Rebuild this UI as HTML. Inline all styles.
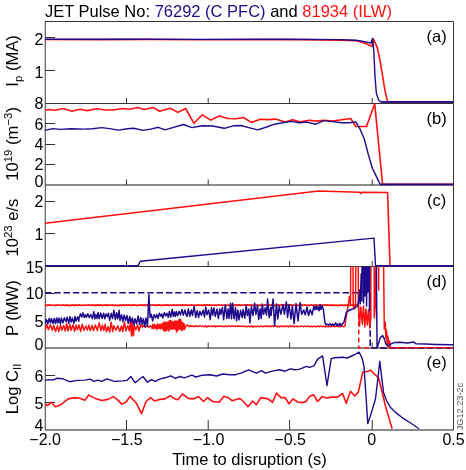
<!DOCTYPE html>
<html><head><meta charset="utf-8"><style>
html,body{margin:0;padding:0;background:#fff;width:466px;height:470px;overflow:hidden}
svg{display:block;font-family:"Liberation Sans",sans-serif;will-change:transform}
</style></head><body>
<svg width="466" height="470" viewBox="0 0 466 470"><g font-family="Liberation Sans, sans-serif">
<text x="44.9" y="16.7" font-size="16.5" fill="#000">JET Pulse No: <tspan fill="#1e0a8c">76292 (C PFC)</tspan> and <tspan fill="#ff1010">81934 (ILW)</tspan></text>
<line x1="45.1" y1="21.5" x2="453.5" y2="21.5" stroke="#333" stroke-width="1"/>
<line x1="45.1" y1="103.5" x2="453.5" y2="103.5" stroke="#333" stroke-width="1"/>
<line x1="45.1" y1="185.0" x2="453.5" y2="185.0" stroke="#1a1a1a" stroke-width="1.1"/>
<line x1="45.1" y1="266.5" x2="453.5" y2="266.5" stroke="#333" stroke-width="1"/>
<line x1="45.1" y1="348.0" x2="453.5" y2="348.0" stroke="#1a1a1a" stroke-width="1.1"/>
<line x1="45.1" y1="430.0" x2="453.5" y2="430.0" stroke="#1a1a1a" stroke-width="1.1"/>
<line x1="45.25" y1="21.5" x2="45.25" y2="430.0" stroke="#3a3a3a" stroke-width="1"/>
<line x1="453.5" y1="21.5" x2="453.5" y2="430.0" stroke="#333" stroke-width="1"/>
<line x1="126.5" y1="103.5" x2="126.5" y2="98.0" stroke="#333" stroke-width="1"/>
<line x1="126.5" y1="185.0" x2="126.5" y2="179.5" stroke="#333" stroke-width="1"/>
<line x1="126.5" y1="266.5" x2="126.5" y2="261.0" stroke="#333" stroke-width="1"/>
<line x1="126.5" y1="348.0" x2="126.5" y2="342.5" stroke="#333" stroke-width="1"/>
<line x1="126.5" y1="430.0" x2="126.5" y2="420.0" stroke="#333" stroke-width="1"/>
<line x1="208.2" y1="103.5" x2="208.2" y2="98.0" stroke="#333" stroke-width="1"/>
<line x1="208.2" y1="185.0" x2="208.2" y2="179.5" stroke="#333" stroke-width="1"/>
<line x1="208.2" y1="266.5" x2="208.2" y2="261.0" stroke="#333" stroke-width="1"/>
<line x1="208.2" y1="348.0" x2="208.2" y2="342.5" stroke="#333" stroke-width="1"/>
<line x1="208.2" y1="430.0" x2="208.2" y2="420.0" stroke="#333" stroke-width="1"/>
<line x1="289.6" y1="103.5" x2="289.6" y2="98.0" stroke="#333" stroke-width="1"/>
<line x1="289.6" y1="185.0" x2="289.6" y2="179.5" stroke="#333" stroke-width="1"/>
<line x1="289.6" y1="266.5" x2="289.6" y2="261.0" stroke="#333" stroke-width="1"/>
<line x1="289.6" y1="348.0" x2="289.6" y2="342.5" stroke="#333" stroke-width="1"/>
<line x1="289.6" y1="430.0" x2="289.6" y2="420.0" stroke="#333" stroke-width="1"/>
<line x1="372.2" y1="103.5" x2="372.2" y2="98.0" stroke="#333" stroke-width="1"/>
<line x1="372.2" y1="185.0" x2="372.2" y2="179.5" stroke="#333" stroke-width="1"/>
<line x1="372.2" y1="266.5" x2="372.2" y2="261.0" stroke="#333" stroke-width="1"/>
<line x1="372.2" y1="348.0" x2="372.2" y2="342.5" stroke="#333" stroke-width="1"/>
<line x1="372.2" y1="430.0" x2="372.2" y2="420.0" stroke="#333" stroke-width="1"/>
<line x1="45.1" y1="37.5" x2="55.1" y2="37.5" stroke="#333" stroke-width="1"/>
<text x="43.5" y="44.49999999999999" font-size="16" text-anchor="end" fill="#000" >2</text>
<line x1="45.1" y1="70.5" x2="55.1" y2="70.5" stroke="#333" stroke-width="1"/>
<text x="43.5" y="77.8" font-size="16" text-anchor="end" fill="#000" >1</text>
<text x="43.5" y="109.3" font-size="16" text-anchor="end" fill="#000" >8</text>
<line x1="45.1" y1="123.5" x2="55.1" y2="123.5" stroke="#333" stroke-width="1"/>
<text x="43.5" y="129.70000000000002" font-size="16" text-anchor="end" fill="#000" >6</text>
<line x1="45.1" y1="144.5" x2="55.1" y2="144.5" stroke="#333" stroke-width="1"/>
<text x="43.5" y="150.0" font-size="16" text-anchor="end" fill="#000" >4</text>
<line x1="45.1" y1="164.5" x2="55.1" y2="164.5" stroke="#333" stroke-width="1"/>
<text x="43.5" y="170.4" font-size="16" text-anchor="end" fill="#000" >2</text>
<text x="43.5" y="186.60000000000002" font-size="16" text-anchor="end" fill="#000" >0</text>
<line x1="45.1" y1="201.5" x2="55.1" y2="201.5" stroke="#333" stroke-width="1"/>
<text x="43.5" y="207.10000000000002" font-size="16" text-anchor="end" fill="#000" >2</text>
<line x1="45.1" y1="233.5" x2="55.1" y2="233.5" stroke="#333" stroke-width="1"/>
<text x="43.5" y="239.70000000000002" font-size="16" text-anchor="end" fill="#000" >1</text>
<text x="43.5" y="272.7" font-size="16" text-anchor="end" fill="#000" >15</text>
<line x1="45.1" y1="293.5" x2="55.1" y2="293.5" stroke="#333" stroke-width="1"/>
<text x="43.5" y="299.40000000000003" font-size="16" text-anchor="end" fill="#000" >10</text>
<line x1="45.1" y1="320.5" x2="55.1" y2="320.5" stroke="#333" stroke-width="1"/>
<text x="43.5" y="326.6" font-size="16" text-anchor="end" fill="#000" >5</text>
<text x="43.5" y="349.8" font-size="16" text-anchor="end" fill="#000" >0</text>
<line x1="45.1" y1="375.5" x2="55.1" y2="375.5" stroke="#333" stroke-width="1"/>
<text x="43.5" y="381.90000000000003" font-size="16" text-anchor="end" fill="#000" >6</text>
<line x1="45.1" y1="402.5" x2="55.1" y2="402.5" stroke="#333" stroke-width="1"/>
<text x="43.5" y="409.0" font-size="16" text-anchor="end" fill="#000" >5</text>
<text x="43.5" y="430.6" font-size="16" text-anchor="end" fill="#000" >4</text>
<path d="M45.0,39.5 L100.0,39.6 L150.0,39.4 L200.0,39.8 L250.0,39.6 L300.0,39.6 L340.0,40.1 L356.0,40.8 L362.0,42.2 L368.0,44.5 L372.4,46.5 L373.2,38.7 L377.2,47.3 L379.8,59.3 L382.4,74.8 L384.9,90.2 L387.5,101.4 L390.0,102.0 L453.0,102.0" fill="none" stroke="#ff1010" stroke-width="1.6" stroke-linejoin="round" />
<path d="M45.0,39.3 L120.0,39.2 L200.0,39.4 L280.0,39.3 L340.0,39.6 L356.0,40.2 L362.0,41.2 L368.0,42.4 L371.2,43.0 L372.4,38.4 L373.8,50.8 L375.0,76.5 L376.4,93.7 L378.9,100.5 L381.0,101.9 L453.0,101.9" fill="none" stroke="#1e0a8c" stroke-width="1.4" stroke-linejoin="round" />
<path d="M45.0,110.3 L48.9,109.5 L55.3,110.3 L63.0,108.5 L72.0,111.3 L79.8,109.3 L87.5,110.6 L96.5,108.8 L105.5,110.0 L113.2,110.0 L122.3,108.5 L130.0,109.3 L137.7,107.5 L144.2,109.5 L153.2,107.5 L159.6,111.3 L165.0,109.8 L170.2,108.2 L177.9,112.4 L185.6,108.5 L193.8,123.2 L202.3,114.9 L210.8,120.1 L219.1,116.0 L228.1,118.5 L235.8,118.8 L243.5,117.5 L251.3,122.4 L260.3,119.3 L268.0,119.6 L275.7,119.1 L285.0,122.1 L292.7,119.8 L300.5,121.9 L309.5,120.3 L315.9,121.1 L323.6,120.3 L332.6,121.1 L341.7,119.8 L350.7,118.5 L355.8,126.5 L366.5,126.5 L374.7,103.8 L382.6,184.4 L453.0,184.4" fill="none" stroke="#ff1010" stroke-width="1.6" stroke-linejoin="round" />
<path d="M45.0,130.4 L52.7,128.6 L60.5,129.4 L70.8,128.8 L83.6,129.1 L92.6,128.8 L101.7,127.6 L109.4,128.6 L118.4,130.1 L127.4,128.8 L133.8,128.3 L142.9,130.4 L150.6,129.1 L158.3,127.3 L165.0,129.9 L172.7,127.6 L183.5,124.5 L192.0,127.6 L202.3,125.8 L212.6,126.0 L224.2,128.3 L233.2,125.8 L241.0,125.5 L248.7,127.6 L257.7,129.9 L266.7,127.0 L274.5,124.2 L285.0,122.4 L291.4,121.4 L299.2,122.7 L306.9,122.1 L315.9,124.2 L323.6,120.6 L332.6,121.6 L341.7,122.7 L349.4,122.7 L355.8,121.9 L360.0,129.0 L364.3,139.0 L368.2,154.0 L372.4,168.2 L375.3,174.4 L380.2,184.4 L453.0,184.4" fill="none" stroke="#1e0a8c" stroke-width="1.4" stroke-linejoin="round" />
<path d="M45.0,223.3 L318.6,191.0 L359.5,192.2 L360.6,193.6 L361.7,192.3 L387.6,192.5 L390.0,265.8 L453.0,265.8" fill="none" stroke="#ff1010" stroke-width="1.6" stroke-linejoin="round" />
<path d="M45.0,265.6 L138.2,265.6 L140.3,261.3 L374.0,238.1 L375.5,265.8 L453.0,265.8" fill="none" stroke="#1e0a8c" stroke-width="1.4" stroke-linejoin="round" />
<path d="M45.0,403.6 L47.6,405.6 L51.4,402.3 L55.3,406.7 L60.5,404.9 L68.2,398.9 L74.6,397.6 L79.8,398.2 L84.9,400.2 L88.8,395.1 L95.2,398.4 L101.7,400.5 L108.1,399.4 L113.2,396.6 L117.1,399.4 L121.7,404.1 L126.1,402.0 L130.0,396.4 L136.4,403.3 L141.6,413.6 L146.0,401.5 L150.6,397.6 L154.4,401.0 L159.6,399.4 L165.0,398.9 L170.2,395.8 L174.0,398.4 L177.9,399.7 L182.5,393.8 L188.2,398.4 L193.3,398.9 L198.5,396.6 L203.6,401.5 L207.5,397.6 L212.6,401.5 L219.1,402.3 L223.7,396.4 L228.1,397.6 L232.0,400.7 L239.7,398.4 L243.5,401.5 L247.9,406.7 L252.6,401.0 L256.4,404.6 L260.8,397.6 L268.0,398.9 L272.6,402.3 L276.5,393.0 L280.9,397.6 L285.0,397.5 L289.0,403.8 L293.1,398.8 L297.7,402.0 L302.2,402.6 L305.8,401.7 L309.4,396.6 L313.6,394.8 L317.6,401.5 L322.1,396.6 L326.6,398.0 L332.1,397.1 L337.5,397.1 L342.6,393.5 L346.2,403.3 L350.5,391.2 L354.7,396.0 L358.3,392.1 L362.8,372.1 L366.8,371.5 L370.7,370.3 L375.0,374.7 L378.4,377.5 L381.7,390.0 L385.5,406.2 L389.4,419.6 L392.2,428.8" fill="none" stroke="#ff1010" stroke-width="1.6" stroke-linejoin="round" />
<path d="M45.0,380.4 L48.9,379.6 L52.7,380.1 L56.6,378.3 L63.0,378.8 L69.5,381.7 L77.2,380.4 L84.9,380.1 L90.1,379.1 L93.9,381.4 L97.8,380.1 L101.7,381.4 L106.8,378.8 L114.5,381.4 L122.3,380.9 L126.9,380.4 L130.8,376.5 L135.1,382.7 L142.9,376.5 L147.5,382.2 L151.4,379.6 L155.2,381.4 L159.6,379.1 L165.0,377.8 L170.7,375.8 L175.3,378.3 L179.9,376.5 L184.3,377.8 L192.0,375.2 L195.9,377.0 L202.3,375.2 L210.1,374.7 L216.5,376.0 L222.9,374.0 L229.4,374.7 L235.8,374.7 L242.3,372.7 L248.7,369.8 L256.4,373.2 L261.6,370.6 L265.4,373.2 L273.2,370.9 L279.6,369.8 L285.0,371.2 L290.4,368.9 L295.0,369.8 L298.6,369.4 L302.2,368.2 L306.4,366.4 L309.4,367.3 L314.0,365.8 L317.6,359.1 L322.6,355.9 L327.0,385.7 L331.2,358.6 L334.8,357.7 L342.9,357.3 L347.4,358.0 L353.8,355.0 L359.2,352.2 L362.0,358.0 L364.0,366.1 L365.9,394.8 L367.8,423.6 L371.6,412.1 L375.5,398.7 L377.6,381.0 L379.8,361.3 L381.7,377.5 L383.6,392.8 L386.5,400.5 L390.3,407.2 L396.1,412.9 L403.7,418.7 L411.4,423.5 L419.0,428.8" fill="none" stroke="#1e0a8c" stroke-width="1.4" stroke-linejoin="round" />
<path d="M381.0,101.9 L453.0,101.9" fill="none" stroke="#1e0a8c" stroke-width="1.5" stroke-linejoin="round" />
<path d="M380.2,184.5 L453.0,184.5" fill="none" stroke="#1e0a8c" stroke-width="1.5" stroke-linejoin="round" />
<path d="M375.5,265.8 L453.0,265.8" fill="none" stroke="#1e0a8c" stroke-width="1.6" stroke-linejoin="round" />
<path d="M45.0,305.4 L46.6,305.1 L48.0,305.3 L49.2,304.8 L50.4,305.4 L51.6,305.0 L53.4,305.5 L55.3,305.1 L56.6,305.3 L58.0,304.8 L59.5,305.5 L61.1,305.0 L62.3,305.5 L63.7,304.9 L65.1,305.6 L66.4,304.9 L68.1,305.6 L70.0,305.1 L71.7,305.3 L72.9,304.9 L74.4,305.6 L76.1,304.9 L77.5,305.6 L79.0,304.7 L80.7,305.5 L82.4,305.0 L84.0,305.3 L85.3,305.0 L87.0,305.3 L88.4,304.8 L89.9,305.5 L91.6,304.8 L93.0,305.4 L94.9,305.1 L96.2,305.4 L97.7,304.9 L99.2,305.4 L101.0,304.9 L102.6,305.7 L104.4,304.8 L106.1,305.4 L107.3,304.7 L108.5,305.4 L109.9,305.0 L111.1,305.3 L112.3,304.8 L113.5,305.4 L114.9,305.1 L116.8,305.5 L118.0,305.1 L119.3,305.6 L120.4,304.8 L121.7,305.7 L123.2,304.8 L124.8,305.4 L126.1,304.8 L127.8,305.4 L129.5,304.8 L131.3,305.6 L132.5,304.9 L133.7,305.3 L135.0,304.9 L136.5,305.6 L138.3,305.0 L139.6,305.4 L141.2,304.8 L142.7,305.5 L143.9,304.9 L145.6,305.6 L146.8,304.8 L148.6,305.6 L150.0,304.8 L151.3,305.3 L153.1,304.8 L154.8,305.6 L156.2,304.9 L157.3,305.6 L158.8,304.8 L160.6,305.6 L161.9,305.0 L163.5,305.4 L164.7,304.8 L166.2,305.5 L167.6,304.8 L169.2,305.6 L170.6,305.0 L172.3,305.4 L174.0,304.9 L175.5,305.5 L176.7,304.9 L178.1,305.6 L179.6,304.8 L181.1,305.5 L182.6,304.9 L184.1,305.5 L185.7,304.8 L187.1,305.5 L188.8,305.1 L190.3,305.3 L191.5,304.9 L193.3,305.3 L194.9,305.1 L196.7,305.4 L198.1,304.9 L199.9,305.3 L201.4,305.0 L202.8,305.8 L204.3,304.8 L205.7,305.5 L206.9,304.8 L208.7,305.3 L209.9,304.8 L211.1,305.4 L212.8,305.0 L214.6,305.5 L215.8,305.1 L217.3,305.3 L218.9,304.8 L220.6,305.3 L222.1,305.0 L223.9,305.4 L225.5,305.0 L226.7,305.3 L228.1,305.0 L229.4,305.5 L230.8,305.1 L231.9,305.6 L233.2,304.9 L234.4,305.6 L235.9,304.8 L237.4,305.5 L238.8,304.8 L240.4,305.4 L241.5,305.0 L243.2,305.4 L244.4,304.8 L246.0,305.4 L247.4,304.9 L248.8,305.4 L250.7,304.9 L252.6,305.4 L253.7,305.0 L255.2,305.4 L256.3,305.0 L257.7,305.4 L259.1,305.0 L260.6,305.6 L262.3,304.8 L263.6,305.6 L265.3,304.7 L267.1,305.6 L268.7,304.8 L270.3,305.5 L272.0,304.8 L273.8,305.5 L275.1,305.1 L276.5,305.3 L278.0,304.9 L279.6,305.6 L281.4,304.8 L282.9,305.7 L284.6,304.9 L285.9,305.6 L287.6,304.8 L289.0,305.5 L290.7,304.9 L291.9,305.3 L293.6,305.0 L294.7,305.3 L296.3,304.9 L297.7,305.5 L299.1,305.1 L300.4,305.6 L301.6,304.9 L303.4,305.5 L304.7,304.8 L306.2,305.3 L308.1,305.1 L309.6,305.6 L310.9,304.8 L312.0,305.3 L313.5,305.0 L314.9,305.4 L316.0,304.8 L317.2,305.6 L319.0,305.0 L320.4,305.6 L321.8,305.0 L323.0,305.3 L324.3,304.8 L325.7,305.5 L327.1,304.8 L328.8,305.5 L330.6,304.9 L331.8,305.6 L333.5,304.9 L334.6,305.6 L336.1,305.0 L337.8,305.6 L339.4,305.0 L340.8,305.4 L342.1,304.8 L343.4,305.6 L344.9,305.1 L346.1,305.4 L347.4,305.0 L349.2,305.6 L350.6,304.9 L352.0,305.3 L353.8,305.1 L355.4,305.6 L356.8,305.0 L358.2,305.6" fill="none" stroke="#ff1010" stroke-width="1.7" stroke-linejoin="round" />
<path d="M358.7,305.5 L358.7,348.0 L453.0,348.0" fill="none" stroke="#ff1010" stroke-width="1.5" stroke-linejoin="round" stroke-dasharray="5 3"/>
<path d="M45.0,292.8 L370.2,292.8 L370.2,348.0 L453.0,348.0" fill="none" stroke="#1e0a8c" stroke-width="1.6" stroke-linejoin="round" stroke-dasharray="6.4 2.9"/>
<defs><clipPath id="cd"><rect x="45" y="266.5" width="409" height="81.8"/></clipPath></defs><g clip-path="url(#cd)">
<path d="M45.0,330.5 L46.8,324.5 L48.4,329.6 L50.4,324.7 L52.4,330.2 L53.7,325.4 L55.6,331.5 L57.4,325.6 L58.7,331.6 L60.6,325.1 L61.9,330.3 L63.7,325.5 L65.3,331.1 L66.7,323.5 L68.1,330.8 L69.8,324.5 L71.2,330.2 L73.0,324.7 L74.6,331.4 L76.0,325.1 L77.4,329.7 L78.9,325.0 L80.7,331.5 L82.1,324.3 L84.0,330.2 L85.8,326.0 L87.4,330.1 L88.9,325.1 L90.2,330.6 L92.2,325.4 L93.4,330.6 L95.4,324.9 L97.3,330.5 L99.2,322.9 L101.0,330.6 L102.4,325.3 L103.9,330.5 L105.2,324.3 L106.6,331.7 L108.2,326.7 L109.7,332.0 L111.2,322.2 L112.7,331.7 L113.9,325.8 L115.9,330.3 L117.8,325.9 L119.8,331.2 L121.5,326.0 L122.7,331.6 L124.5,322.0 L125.8,330.8 L127.8,325.8 L129.3,330.9 L130.5,320.0 L130.7,324.7 L131.5,336.0 L132.5,318.5 L132.5,331.6 L133.5,335.6 L134.0,326.0 L134.5,326.0 L135.8,329.8 L137.6,324.9 L138.9,331.0 L140.9,324.5 L142.3,327.1 L143.9,325.5 L145.2,327.4 L147.0,325.5 L148.7,327.2 L150.2,325.7 L151.9,327.2 L152.0,328.4 L152.8,324.2 L153.6,328.7 L154.4,324.6 L155.1,328.1 L155.9,325.1 L156.9,329.5 L157.7,323.8 L158.5,328.3 L159.4,324.6 L160.3,328.9 L161.0,323.9 L161.9,328.2 L163.0,322.9 L163.0,329.7 L163.7,322.4 L164.3,331.1 L165.0,322.1 L165.5,330.7 L165.9,323.0 L166.5,330.8 L167.1,322.1 L167.6,329.3 L168.2,322.6 L168.9,330.9 L169.3,320.5 L169.9,328.7 L170.4,320.5 L171.0,329.0 L171.5,321.7 L172.1,329.0 L172.7,321.3 L173.1,329.1 L173.8,322.4 L174.4,328.6 L174.8,320.9 L175.4,329.3 L176.0,321.2 L176.5,332.1 L177.1,321.0 L177.7,330.5 L178.2,321.3 L178.6,329.6 L179.2,319.0 L179.8,328.8 L180.4,319.4 L180.9,329.6 L181.4,321.3 L182.0,330.6 L182.7,322.4 L183.3,329.2 L184.0,323.7 L184.6,329.3 L186.5,325.0 L188.0,325.5 L189.0,326.0 L189.0,326.7 L190.5,325.6 L191.8,326.6 L193.0,326.0 L194.8,326.7 L196.1,325.7 L197.6,326.6 L199.4,325.8 L201.1,326.4 L202.7,325.9 L204.1,326.8 L205.5,325.7 L206.7,327.0 L208.5,326.0 L210.3,326.6 L211.7,326.1 L212.9,326.7 L214.4,325.7 L215.7,326.9 L216.8,326.0 L218.2,326.5 L219.8,326.0 L221.3,326.4 L222.6,326.1 L224.2,326.8 L225.6,325.9 L227.2,326.7 L228.8,325.9 L230.5,326.5 L231.7,325.9 L233.0,326.4 L234.1,325.9 L235.3,326.5 L236.9,325.9 L238.1,326.6 L239.3,325.8 L240.9,326.4 L242.6,326.0 L244.1,326.5 L245.4,326.2 L247.1,326.8 L248.7,326.1 L250.2,326.8 L251.5,325.9 L252.8,327.2 L254.1,326.1 L255.9,326.8 L257.7,326.1 L259.5,326.8 L261.2,325.8 L262.9,326.8 L264.4,325.9 L265.7,326.6 L266.9,325.8 L268.1,326.5 L269.4,326.1 L270.6,326.8 L272.2,325.6 L273.8,326.7 L275.5,325.5 L277.3,326.9 L278.5,326.2 L279.7,326.9 L281.3,325.9 L282.6,326.6 L284.3,326.2 L285.8,326.5 L287.1,325.9 L288.5,327.0 L290.2,325.7 L291.7,326.7 L293.0,325.9 L294.3,326.9 L296.1,326.1 L297.3,326.9 L298.5,326.1 L300.2,326.6 L301.6,325.9 L303.4,326.7 L305.1,326.1 L306.7,326.6 L308.3,325.9 L309.7,326.8 L311.5,326.3 L312.6,326.7 L314.4,326.1 L316.2,326.7 L317.8,326.0 L319.4,326.7 L320.6,325.9 L322.3,326.7 L324.0,326.1 L325.5,327.0 L326.7,326.2 L328.5,326.7 L329.8,326.2 L331.0,326.8 L332.9,326.0 L334.7,326.7 L336.6,326.0 L338.1,326.7 L339.3,326.3 L340.4,326.8 L342.1,326.1 L343.5,326.7 L345.0,326.0 L346.0,318.0 L348.0,306.0 L349.5,296.5 L350.5,305.0 L351.4,150.0 L352.3,150.0 L353.2,306.0 L354.5,309.0 L355.5,304.0 L356.9,150.0 L357.9,150.0 L358.4,306.0 L359.5,326.0 L360.8,307.0 L362.3,324.0 L363.5,306.0 L364.8,327.0 L366.0,309.0 L367.3,325.0 L368.5,310.0 L369.8,328.0 L370.8,318.0 L371.3,150.0 L373.9,150.0 L374.3,318.0 L375.5,304.0 L377.6,150.0 L378.6,290.0 L379.3,150.0 L382.3,150.0 L384.3,329.0 L385.2,322.0 L385.9,338.0 L386.5,330.0 L387.2,344.0 L387.9,336.0 L388.7,347.0 L389.6,341.0 L390.5,348.0 L453.0,348.0" fill="none" stroke="#ff1010" stroke-width="1.5" stroke-linejoin="round" />
<path d="M45.0,323.7 L46.2,319.5 L47.8,324.1 L49.3,318.2 L50.6,322.8 L51.6,318.7 L53.1,323.5 L54.3,318.5 L55.6,323.5 L56.7,317.9 L57.9,322.9 L58.9,318.1 L60.4,323.9 L61.4,317.9 L62.9,322.7 L64.4,317.8 L66.0,321.8 L67.2,317.1 L68.8,323.2 L70.0,316.6 L71.2,322.0 L72.4,318.1 L73.9,323.2 L75.0,316.6 L76.1,321.1 L77.6,316.9 L78.9,321.2 L79.0,318.3 L80.5,313.7 L81.8,317.1 L83.0,312.7 L84.3,317.4 L85.4,314.7 L86.5,317.3 L87.8,313.7 L89.2,317.6 L90.7,314.5 L92.3,318.6 L93.8,311.6 L94.8,318.9 L95.9,314.4 L97.1,318.5 L98.1,312.4 L99.2,318.7 L100.7,313.0 L102.2,318.6 L103.6,313.3 L104.9,318.7 L106.0,314.0 L107.3,316.7 L108.4,313.3 L109.7,320.4 L111.2,313.3 L112.6,318.5 L113.9,310.2 L115.3,319.5 L116.6,312.8 L117.8,318.8 L119.1,310.3 L120.0,320.5 L121.5,314.8 L122.9,321.5 L124.1,315.1 L125.6,320.4 L126.9,315.4 L128.2,323.3 L129.7,316.5 L130.8,322.5 L132.3,318.1 L133.9,324.8 L135.0,318.8 L136.6,323.7 L138.1,316.1 L139.5,324.3 L140.8,317.5 L142.2,324.3 L143.3,318.7 L144.8,326.4 L146.0,318.0 L147.5,326.0 L148.9,294.4 L150.0,316.0 L150.0,317.5 L151.2,314.2 L152.6,320.9 L154.0,314.7 L155.5,317.8 L156.8,314.4 L158.1,318.4 L159.4,313.2 L160.8,316.3 L161.8,314.0 L162.8,318.0 L164.4,312.7 L165.8,315.9 L166.9,313.3 L168.3,317.2 L169.4,311.6 L170.7,317.2 L172.3,309.5 L173.2,316.2 L174.3,311.9 L175.3,316.5 L176.4,311.6 L177.6,315.8 L179.1,311.3 L180.5,314.9 L182.0,309.5 L183.3,315.2 L184.9,309.9 L186.1,314.8 L187.0,316.4 L188.3,308.8 L189.8,316.4 L191.3,309.9 L192.5,315.6 L194.1,306.1 L195.7,317.4 L197.1,310.7 L198.6,317.4 L199.9,311.3 L201.4,315.3 L203.1,310.2 L204.5,316.9 L205.7,307.0 L207.0,314.8 L208.6,309.9 L210.2,319.5 L211.5,307.7 L212.7,315.2 L213.9,307.9 L215.3,316.3 L217.0,309.1 L218.4,318.6 L219.8,308.9 L220.8,314.3 L222.4,307.5 L223.6,319.8 L225.3,304.9 L226.9,318.5 L228.1,309.1 L229.1,318.5 L230.5,303.2 L231.5,318.7 L232.6,303.2 L234.0,318.8 L235.5,307.6 L236.6,320.7 L237.8,310.2 L239.0,319.8 L240.6,310.3 L242.1,317.6 L243.1,309.6 L244.8,318.2 L246.2,305.0 L247.4,315.6 L248.8,308.9 L249.9,322.9 L251.4,306.6 L253.0,315.5 L254.6,303.2 L255.9,314.4 L257.5,305.3 L258.7,319.6 L260.2,308.9 L261.2,318.4 L262.3,304.1 L263.6,314.3 L265.2,308.0 L266.5,315.1 L267.6,298.9 L269.2,317.7 L270.6,307.8 L271.0,315.6 L273.1,299.1 L274.6,325.8 L276.5,303.9 L277.8,319.0 L279.2,306.2 L280.9,314.2 L283.0,304.5 L284.4,314.2 L286.3,301.8 L287.6,317.5 L289.1,304.6 L291.0,319.0 L292.4,305.7 L294.1,323.7 L296.0,303.6 L298.0,320.9 L300.1,302.5 L301.6,314.2 L302.0,313.6 L303.7,310.0 L305.2,314.8 L307.0,307.1 L308.5,315.5 L310.3,309.8 L312.2,314.7 L313.8,306.1 L315.0,309.8 L316.0,306.1 L316.9,309.5 L317.9,306.8 L319.1,310.7 L320.1,304.4 L321.0,309.5 L322.2,306.0 L323.4,309.6 L325.0,323.0 L326.0,324.9 L327.3,324.1 L328.8,325.1 L330.2,323.8 L331.7,325.5 L332.7,323.9 L334.2,325.5 L335.6,322.8 L336.8,325.7 L337.9,323.9 L339.0,325.7 L340.1,323.3 L341.1,325.7 L342.6,323.7 L344.0,322.0 L346.5,312.0 L350.0,310.0 L354.0,308.5 L357.0,306.5 L357.8,305.0 L358.8,300.0 L359.6,290.0 L360.2,304.0 L361.2,274.0 L361.8,301.0 L362.8,150.0 L363.6,303.0 L364.4,150.0 L365.0,296.0 L365.8,150.0 L366.6,306.0 L367.4,150.0 L368.0,292.0 L368.8,150.0 L369.5,311.0 L370.2,150.0 L375.2,150.0 L377.1,348.0 L380.3,337.6 L382.7,335.7 L384.6,339.4 L385.9,344.1 L387.7,346.0 L390.5,344.1 L395.0,342.4 L400.0,342.3 L407.4,342.9 L414.0,342.1 L415.9,343.8 L426.2,344.0 L435.5,344.4 L453.0,344.8" fill="none" stroke="#1e0a8c" stroke-width="1.5" stroke-linejoin="round" />
</g>
<text x="436.6" y="42.0" font-size="16.5" text-anchor="middle" fill="#000" >(a)</text>
<text x="436.6" y="123.7" font-size="16.5" text-anchor="middle" fill="#000" >(b)</text>
<text x="436.6" y="205.8" font-size="16.5" text-anchor="middle" fill="#000" >(c)</text>
<text x="436.6" y="287.0" font-size="16.5" text-anchor="middle" fill="#000" >(d)</text>
<text x="436.6" y="367.8" font-size="16.5" text-anchor="middle" fill="#000" >(e)</text>
<text transform="translate(17.5,60.9) rotate(-90)" font-size="16.6" text-anchor="middle" fill="#000">I<tspan font-size="11.4" dy="4">p</tspan><tspan dy="-4"> (MA)</tspan></text>
<text transform="translate(18,143.9) rotate(-90)" font-size="16.6" text-anchor="middle" fill="#000">10<tspan font-size="11.4" dy="-6.3">19</tspan><tspan dy="6.3"> (m</tspan><tspan font-size="11.4" dy="-6.3">−3</tspan><tspan dy="6.3">)</tspan></text>
<text transform="translate(18,227.6) rotate(-90)" font-size="16.6" text-anchor="middle" fill="#000">10<tspan font-size="11.4" dy="-6.3">23</tspan><tspan dy="6.3"> e/s</tspan></text>
<text transform="translate(17.5,308.1) rotate(-90)" font-size="16.6" text-anchor="middle" fill="#000">P (MW)</text>
<text transform="translate(17.5,389.0) rotate(-90)" font-size="16.6" text-anchor="middle" fill="#000">Log C<tspan font-size="11.4" dy="3.6">II</tspan></text>
<text x="45.1" y="445" font-size="16" text-anchor="middle" fill="#000" >−2.0</text>
<text x="126.8" y="445" font-size="16" text-anchor="middle" fill="#000" >−1.5</text>
<text x="208.5" y="445" font-size="16" text-anchor="middle" fill="#000" >−1.0</text>
<text x="290.1" y="445" font-size="16" text-anchor="middle" fill="#000" >−0.5</text>
<text x="371.8" y="445" font-size="16" text-anchor="middle" fill="#000" >0</text>
<text x="453.5" y="445" font-size="16" text-anchor="middle" fill="#000" >0.5</text>
<text x="249.5" y="464.7" font-size="16.5" text-anchor="middle" fill="#000" >Time to disruption (s)</text>
<text transform="translate(463.1,406.5) rotate(-90)" font-size="9.2" text-anchor="middle" fill="#555">JG12.23-2c</text>
</g></svg>
</body></html>
